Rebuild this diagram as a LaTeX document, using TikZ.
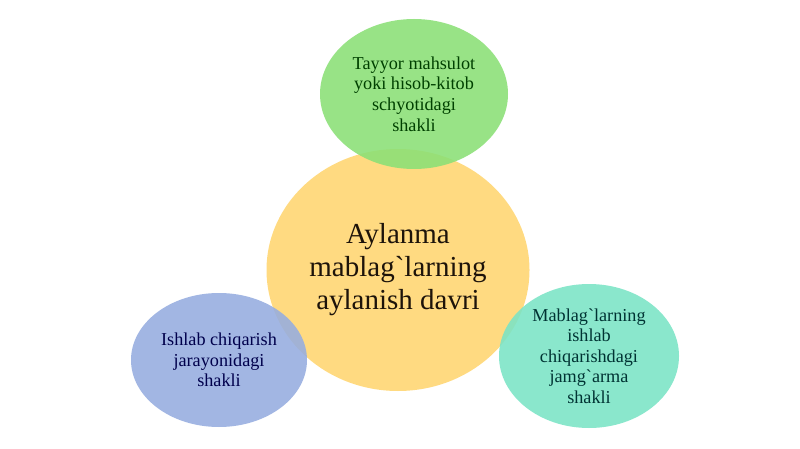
\documentclass[tikz,border=0pt]{standalone}
\usepackage{fontspec}
\setmainfont{Liberation Serif}
\usetikzlibrary{shapes.geometric}
\newcommand{\gr}{\textasciigrave}
\begin{document}
\begin{tikzpicture}[x=1pt,y=-1pt,
  blob/.style={ellipse, inner sep=0pt, fill opacity=0.88, text opacity=1, align=center},
  smalltxt/.style={font=\fontsize{18.2}{20.6}\selectfont},
  bigtxt/.style={font=\fontsize{29}{33}\selectfont}]
\fill[white] (0,0) rectangle (800,449);
\useasboundingbox (0,0) rectangle (800,449);
\definecolor{cyellow}{HTML}{FFD670}
\definecolor{cgreen}{HTML}{8AE076}
\definecolor{cblue}{HTML}{96ADE0}
\definecolor{cteal}{HTML}{7AE4C6}
\node[blob, fill=cyellow, minimum width=263, minimum height=242, bigtxt, text=black!85!brown] (c) at (398,270) {Aylanma\\mablag\gr larning\\aylanish davri};
\node[blob, fill=cgreen, minimum width=188, minimum height=150, smalltxt, text=green!25!black] (t) at (414,94) {Tayyor mahsulot\\yoki hisob-kitob\\schyotidagi\\shakli};
\node[blob, fill=cblue, minimum width=176, minimum height=134, smalltxt, text=blue!30!black] (l) at (219,360) {Ishlab chiqarish\\jarayonidagi\\shakli};
\node[blob, fill=cteal, minimum width=180, minimum height=144, smalltxt, text=teal!40!black] (r) at (589,356) {Mablag\gr larning\\ishlab\\chiqarishdagi\\jamg\gr arma\\shakli};
\end{tikzpicture}
\end{document}
